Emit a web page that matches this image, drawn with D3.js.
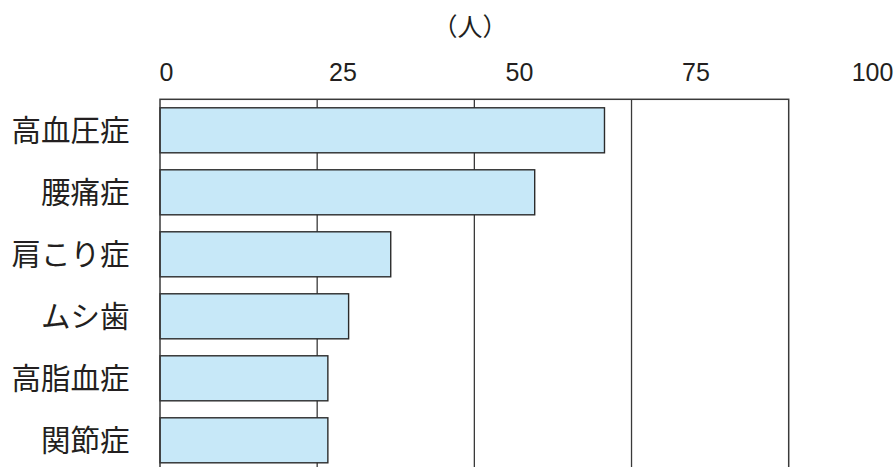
<!DOCTYPE html>
<html>
<head>
<meta charset="utf-8">
<script src="https://cdn.jsdelivr.net/npm/d3@7"></script>
<style>
    html, body { margin: 0; padding: 0; background: #fff; }
    svg { display: block; }
    .num { font-family: "Liberation Sans", Arial, sans-serif; font-size: 25px; fill: #231f20; }
    .cat { font-family: "Noto Sans CJK JP", sans-serif; font-size: 29.5px; fill: #231f20; }
</style>
</head>
<body>
<div id="chart"></div>
<script>
const categories = ['高血圧症', '腰痛症', '肩こり症', 'ムシ歯', '高脂血症', '関節症'];
const values = [70.7, 59.6, 36.7, 30.0, 26.7, 26.7];
const tickValues = [0, 25, 50, 75, 100];
const unitLabel = '（人）';

const width = 895, height = 467;
const plot = { left: 160, right: 788.7, top: 99.3, bottom: 471.3 };

const svg = d3.select('#chart').append('svg')
    .attr('width', width)
    .attr('height', height);

// bars and grid share this scale
const x = d3.scaleLinear().domain([0, 100]).range([plot.left, plot.right]);
// tick labels sit on their own, slightly wider spacing (as in the print)
const xLabel = d3.scaleLinear().domain([0, 100]).range([166, 872]);
const y = d3.scaleBand().domain(categories).range([plot.top, plot.bottom])
    .paddingInner(0.274).paddingOuter(0.137);

// gridlines
svg.append('g').selectAll('line')
    .data(tickValues.filter(t => t > 0 && t < 100))
    .join('line')
    .attr('x1', d => x(d)).attr('x2', d => x(d))
    .attr('y1', plot.top).attr('y2', plot.bottom)
    .attr('stroke', '#3a3a3a')
    .attr('stroke-width', 1.3);

// bars
svg.append('g').selectAll('rect')
    .data(values)
    .join('rect')
    .attr('x', x(0))
    .attr('y', (d, i) => y(categories[i]))
    .attr('width', d => x(d) - x(0))
    .attr('height', y.bandwidth())
    .attr('fill', '#c7e8f8')
    .attr('stroke', '#2b2b2b')
    .attr('stroke-width', 1.4);

// frame
svg.append('rect')
    .attr('x', plot.left).attr('y', plot.top)
    .attr('width', plot.right - plot.left)
    .attr('height', plot.bottom - plot.top)
    .attr('fill', 'none')
    .attr('stroke', '#3a3a3a')
    .attr('stroke-width', 1.5);

// top axis labels
const axis = svg.append('g')
    .attr('transform', 'translate(0, 81)')
    .call(d3.axisTop(xLabel).tickValues(tickValues).tickSize(0).tickPadding(0));
axis.select('.domain').remove();
axis.selectAll('text')
    .attr('class', 'num')
    .attr('dy', 0)
    .attr('font-size', null)
    .attr('font-family', null);

// unit
svg.append('text')
    .attr('class', 'cat')
    .attr('x', 470)
    .attr('y', 36)
    .attr('text-anchor', 'middle')
    .style('font-size', '25px')
    .text(unitLabel);

// category labels
svg.append('g').selectAll('text')
    .data(categories)
    .join('text')
    .attr('class', 'cat')
    .attr('x', 129.5)
    .attr('y', d => y(d) + y.bandwidth() / 2)
    .attr('dy', '0.36em')
    .attr('text-anchor', 'end')
    .text(d => d);
</script>
</body>
</html>
